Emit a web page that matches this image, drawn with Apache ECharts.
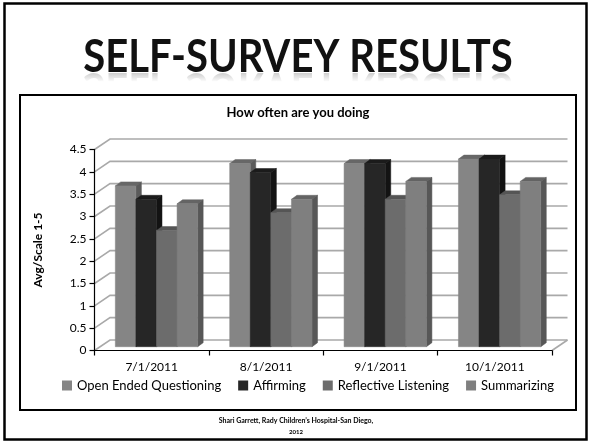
<!DOCTYPE html>
<html>
<head>
<meta charset="utf-8">
<script src="https://cdn.jsdelivr.net/npm/echarts@6/dist/echarts.min.js"></script>
<style>
  html, body { margin: 0; padding: 0; background: #fff; }
  #chart { width: 591px; height: 444px; }
</style>
</head>
<body>
<div id="chart"></div>
<script>
// Survey categories and averages (scale 1-5)
const categories = ['7/1/2011', '8/1/2011', '9/1/2011', '10/1/2011'];
const seriesNames = ['Open Ended Questioning', 'Affirming', 'Reflective Listening', 'Summarizing'];
const openEnded = [3.6, 4.1, 4.1, 4.2];
const affirming = [3.3, 3.9, 4.1, 4.2];
const reflective = [2.6, 3.0, 3.3, 3.4];
const summarizing = [3.2, 3.3, 3.7, 3.7];
const yTicks = [0, 0.5, 1, 1.5, 2, 2.5, 3, 3.5, 4, 4.5];

const seriesValues = [openEnded, affirming, reflective, summarizing];

// Shading for each series: front face, top face, side face
const shades = [
  { front: '#858585', top: '#676767', side: '#5b5b5b' },
  { front: '#262626', top: '#1b1b1b', side: '#131313' },
  { front: '#6c6c6c', top: '#555555', side: '#4b4b4b' },
  { front: '#7f7f7f', top: '#646464', side: '#575757' }
];

// Oblique depth of the back wall and of the bars
const WALL_DX = 15.5, WALL_DY = -10.5;
const BAR_OFF_DX = 4.8, BAR_OFF_DY = -3.8;
const BAR_DX = 5.5, BAR_DY = -4;

const chart = echarts.init(document.getElementById('chart'), null, { renderer: 'canvas' });

function renderWall(params, api) {
  const cs = params.coordSys;
  const v = api.value(1);
  const y = api.coord([0, v])[1];
  const x0 = cs.x, x1 = cs.x + cs.width;
  const style = { stroke: '#a9a9a9', lineWidth: 1.6, fill: null };
  const children = [{
    type: 'polyline',
    shape: { points: [[x0, y], [x0 + WALL_DX, y + WALL_DY], [x1 + WALL_DX, y + WALL_DY]] },
    style: style
  }];
  if (v === 0) {
    children.push({
      type: 'line',
      shape: { x1: x1, y1: y, x2: x1 + WALL_DX, y2: y + WALL_DY },
      style: style
    });
  }
  return { type: 'group', children: children };
}

function makeBarRenderer(s) {
  return function (params, api) {
    const i = api.value(0);
    const v = api.value(1);
    const top = api.coord([i, v]);
    const base = api.coord([i, 0]);
    const band = api.size([1, 0])[0];
    const bw = band * 0.18;
    const left = top[0] - 2 * bw + BAR_OFF_DX + s * bw;
    const right = left + bw;
    const yTop = top[1] + BAR_OFF_DY;
    const yBot = base[1] + BAR_OFF_DY;
    const c = shades[s];
    return {
      type: 'group',
      children: [
        { type: 'polygon', shape: { points: [[left, yTop], [left + BAR_DX, yTop + BAR_DY], [right + BAR_DX, yTop + BAR_DY], [right, yTop]] },
          style: { fill: c.top, stroke: c.top, lineWidth: 0.5 } },
        { type: 'polygon', shape: { points: [[right, yTop], [right + BAR_DX, yTop + BAR_DY], [right + BAR_DX, yBot + BAR_DY], [right, yBot]] },
          style: { fill: c.side, stroke: c.side, lineWidth: 0.5 } },
        { type: 'rect', shape: { x: left, y: yTop, width: bw, height: yBot - yTop },
          style: { fill: c.front, stroke: c.front, lineWidth: 0.5 } }
      ]
    };
  };
}

const series = [{
  type: 'custom',
  name: '_wall',
  silent: true,
  clip: false,
  renderItem: renderWall,
  encode: { x: 0, y: 1 },
  data: yTicks.map(t => [0, t]),
  z: 1
}];

seriesValues.forEach((vals, s) => {
  series.push({
    type: 'custom',
    name: seriesNames[s],
    clip: false,
    renderItem: makeBarRenderer(s),
    encode: { x: 0, y: 1 },
    itemStyle: { color: shades[s].front },
    data: vals.map((v, i) => [i, v]),
    z: 2
  });
});

const textFont = 'Lato, "Open Sans", sans-serif';
const headingFont = 'bold 45px ' + textFont;

const option = {
  backgroundColor: '#ffffff',
  animation: false,
  grid: { left: 94.5, right: 39, top: 149.5, bottom: 93.5, containLabel: false },
  xAxis: {
    type: 'category',
    data: categories,
    boundaryGap: true,
    axisLine: { show: true, lineStyle: { color: '#000', width: 1.2 } },
    axisTick: { show: true, length: 5, inside: false, lineStyle: { color: '#000', width: 1.2 } },
    axisLabel: { color: '#000', fontSize: 12, fontFamily: textFont, margin: 11 },
    splitLine: { show: false },
    z: 5
  },
  yAxis: {
    type: 'value',
    min: 0,
    max: 4.5,
    interval: 0.5,
    axisLine: { show: true, lineStyle: { color: '#000', width: 1.2 } },
    axisTick: { show: true, length: 5, lineStyle: { color: '#000', width: 1.2 } },
    axisLabel: { color: '#000', fontSize: 12, fontFamily: textFont, margin: 8 },
    splitLine: { show: false },
    z: 5
  },
  legend: {
    data: seriesNames,
    top: 374,
    left: 57,
    icon: 'rect',
    itemWidth: 10,
    itemHeight: 10,
    itemGap: 17,
    textStyle: { color: '#000', fontSize: 13, fontFamily: textFont }
  },
  series: series,
  graphic: [
    // Reflection beneath the slide heading, faded out by a white gradient
    { type: 'text', x: 298, y: 88, scaleX: 0.89, scaleY: -1, z: 0,
      style: { text: 'SELF-SURVEY RESULTS', font: headingFont, fill: 'rgba(0,0,0,0.25)',
               align: 'center', verticalAlign: 'middle' } },
    { type: 'rect', shape: { x: 40, y: 72, width: 510, height: 10 }, z: 0,
      style: { fill: new echarts.graphic.LinearGradient(0, 0, 0, 1, [
        { offset: 0, color: 'rgba(255,255,255,0.15)' },
        { offset: 1, color: 'rgba(255,255,255,1)' }]) } },
    { type: 'rect', shape: { x: 40, y: 81.5, width: 510, height: 50 }, z: 0,
      style: { fill: '#fff' } },
    { type: 'text', x: 298, y: 57, scaleX: 0.89, z: 0,
      style: { text: 'SELF-SURVEY RESULTS', font: headingFont, fill: '#111',
               align: 'center', verticalAlign: 'middle' } },
    { type: 'rect', shape: { x: 4.5, y: 3.5, width: 582, height: 436 },
      style: { fill: null, stroke: '#000', lineWidth: 2.5 }, z: 0 },
    { type: 'rect', shape: { x: 20, y: 95, width: 556, height: 315 },
      style: { fill: null, stroke: '#000', lineWidth: 2 }, z: 0 },
    { type: 'text', x: 298, y: 113,
      style: { text: 'How often are you doing', font: 'bold 13px ' + textFont, fill: '#000',
               align: 'center', verticalAlign: 'middle' } },
    { type: 'text', x: 38, y: 250, rotation: Math.PI / 2,
      style: { text: 'Avg/Scale 1-5', font: 'bold 12px ' + textFont, fill: '#000',
               align: 'center', verticalAlign: 'middle' } },
    { type: 'text', x: 296, y: 421,
      style: { text: 'Shari Garrett, Rady Children\u2019s Hospital-San Diego,', font: 'bold 7px ' + textFont, fill: '#000',
               align: 'center', verticalAlign: 'middle' } },
    { type: 'text', x: 296, y: 432,
      style: { text: '2012', font: 'bold 6px ' + textFont, fill: '#000',
               align: 'center', verticalAlign: 'middle' } }
  ]
};

chart.setOption(option);
</script>
</body>
</html>
